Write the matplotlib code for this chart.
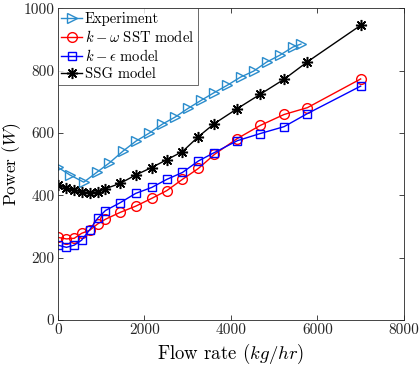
import matplotlib
matplotlib.use("Agg")
import matplotlib.pyplot as plt

plt.rcParams['font.family'] = ['cmr10', 'DejaVu Serif']
plt.rcParams['mathtext.fontset'] = 'cm'
plt.rcParams['axes.formatter.use_mathtext'] = True
plt.rcParams['axes.unicode_minus'] = False

exp_x = [0, 280, 600, 905, 1185, 1510, 1810, 2110, 2415, 2715, 3015, 3320,
         3600, 3920, 4225, 4525, 4825, 5130, 5430, 5620]
exp_p = [490, 465, 442, 474, 503, 542, 574, 599, 628, 651, 679, 705,
         728, 753, 779, 798, 827, 849, 875, 885]

model_x = [0, 200, 380, 550, 740, 920, 1100, 1440, 1800, 2170, 2520, 2880,
           3250, 3620, 4150, 4680, 5230, 5770, 7000]
sst_p = [265, 260, 262, 278, 288, 308, 323, 345, 365, 390, 415, 451,
         486, 531, 582, 624, 659, 681, 773]
keps_p = [240, 233, 240, 256, 290, 326, 351, 376, 406, 425, 451, 473,
          510, 537, 575, 598, 620, 662, 750]
ssg_p = [433, 422, 417, 411, 408, 411, 421, 438, 465, 489, 514, 540,
         588, 630, 678, 724, 772, 828, 945]

labels = ['Experiment', r'$k-\omega$ SST model', r'$k-\epsilon$ model', 'SSG model']

fig = plt.figure(figsize=(4.19, 3.66), dpi=100)
ax = fig.add_axes([0.138, 0.1257, 0.826, 0.852])

ax.plot(exp_x, exp_p, color='#2a8ccc', marker='>', ms=7, mfc='none', mew=1.0, lw=1.0, label=labels[0])
ax.plot(model_x, sst_p, color='#ff0000', marker='o', ms=7, mfc='none', mew=1.0, lw=1.0, label=labels[1])
ax.plot(model_x, keps_p, color='#0000ff', marker='s', ms=6, mfc='none', mew=1.0, lw=1.0, label=labels[2])
ax.plot(model_x, ssg_p, color='black', marker=(8, 2, 0), ms=8, mew=1.1, lw=1.0, label=labels[3])

ax.set_xlim(0, 8000)
ax.set_ylim(0, 1000)
ax.set_xticks([0, 2000, 4000, 6000, 8000])
ax.set_yticks([0, 200, 400, 600, 800, 1000])
ax.set_xticklabels(['0', '2000', '4000', '6000', '8000'])
ax.set_yticklabels(['0', '200', '400', '600', '800', '1000'])
ax.tick_params(direction='in', top=True, right=True, labelsize=11, colors='#262626',
               length=3.5, width=0.6, pad=2.5)
for s in ax.spines.values():
    s.set_color('#262626')
    s.set_linewidth(0.6)

ax.set_xlabel(r'Flow rate ($kg/hr$)', fontsize=13.5)
ax.set_ylabel(r'Power ($W$)', fontsize=12.5)
ax.xaxis.set_label_coords(0.5, -0.07)
ax.yaxis.set_label_coords(-0.1, 0.5)

leg = ax.legend(loc='upper left', borderaxespad=0, fontsize=10.5, frameon=True, fancybox=False,
                edgecolor='#262626', handlelength=1.4, handletextpad=0.2, labelspacing=0.22,
                borderpad=0.25)
leg.get_frame().set_linewidth(0.6)

fig.savefig('out.png', dpi=100)
